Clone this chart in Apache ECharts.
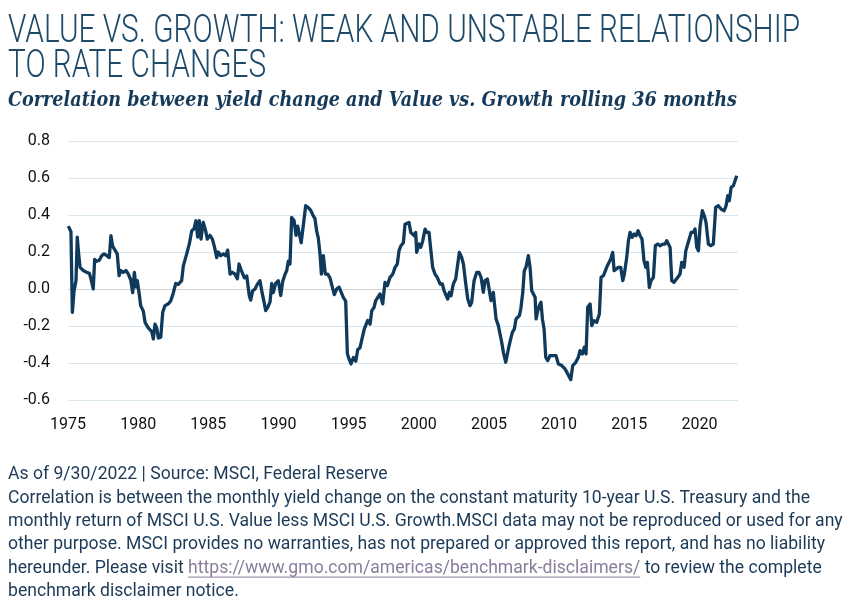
<!DOCTYPE html>
<html><head><meta charset="utf-8">
<script src="https://cdn.jsdelivr.net/npm/echarts@6/dist/echarts.min.js"></script>
<style>html,body{margin:0;padding:0;background:#fff}#c{width:857px;height:608px}</style>
</head><body><div id="c"></div>
<script>
const titleLines = ["VALUE VS. GROWTH: WEAK AND UNSTABLE RELATIONSHIP", "TO RATE CHANGES"];
const subtitle = "Correlation between yield change and Value vs. Growth rolling 36 months";
const noteLines = [
  "As of 9/30/2022 | Source: MSCI, Federal Reserve",
  "Correlation is between the monthly yield change on the constant maturity 10-year U.S. Treasury and the",
  "monthly return of MSCI U.S. Value less MSCI U.S. Growth.MSCI data may not be reproduced or used for any",
  "other purpose. MSCI provides no warranties, has not prepared or approved this report, and has no liability",
  "hereunder. Please visit |https://www.gmo.com/americas/benchmark-disclaimers/| to review the complete",
  "benchmark disclaimer notice."
];
const yearTicks = [1975, 1980, 1985, 1990, 1995, 2000, 2005, 2010, 2015, 2020];
const years = [
1975.02,1975.14,1975.21,1975.31,1975.43,1975.57,1975.66,1975.76,1975.86,1976.09,1976.33,1976.52,1976.62,1976.80,1976.90,
1977.05,1977.23,1977.40,1977.57,1977.76,1977.94,1978.06,1978.19,1978.35,1978.51,1978.64,1978.76,1978.94,1979.13,1979.30,
1979.47,1979.61,1979.73,1979.85,1979.94,1980.08,1980.18,1980.37,1980.49,1980.72,1980.97,1981.08,1981.20,1981.32,1981.44,
1981.61,1981.75,1981.91,1982.15,1982.32,1982.51,1982.68,1982.86,1983.10,1983.22,1983.34,1983.46,1983.65,1983.82,1983.98,
1984.12,1984.24,1984.36,1984.48,1984.64,1984.81,1984.93,1985.12,1985.29,1985.43,1985.60,1985.71,1985.88,1986.07,1986.24,
1986.38,1986.55,1986.71,1986.90,1987.07,1987.19,1987.33,1987.45,1987.57,1987.74,1987.92,1988.02,1988.16,1988.33,1988.49,
1988.68,1988.81,1988.97,1989.09,1989.23,1989.40,1989.52,1989.63,1989.80,1989.99,1990.16,1990.30,1990.47,1990.59,1990.70,
1990.82,1990.94,1991.11,1991.25,1991.37,1991.49,1991.62,1991.74,1991.94,1992.13,1992.30,1992.48,1992.60,1992.73,1992.84,
1992.96,1993.06,1993.20,1993.34,1993.51,1993.67,1993.84,1993.98,1994.15,1994.32,1994.46,1994.62,1994.79,1994.91,1995.03,
1995.17,1995.34,1995.51,1995.65,1995.81,1995.98,1996.12,1996.24,1996.36,1996.53,1996.65,1996.81,1996.93,1997.07,1997.24,
1997.43,1997.59,1997.76,1997.95,1998.14,1998.31,1998.47,1998.59,1998.73,1998.90,1999.02,1999.14,1999.30,1999.43,1999.54,
1999.66,1999.78,1999.85,2000.02,2000.14,2000.28,2000.45,2000.57,2000.73,2000.85,2000.99,2001.16,2001.32,2001.52,2001.68,
2001.80,2001.94,2002.06,2002.18,2002.30,2002.46,2002.63,2002.75,2002.89,2003.06,2003.18,2003.35,2003.49,2003.65,2003.77,
2003.94,2004.13,2004.29,2004.44,2004.60,2004.72,2004.89,2005.03,2005.15,2005.31,2005.43,2005.51,2005.67,2005.79,2005.91,
2006.03,2006.20,2006.31,2006.41,2006.55,2006.67,2006.81,2006.93,2007.05,2007.17,2007.27,2007.41,2007.52,2007.64,2007.81,
2007.93,2008.05,2008.16,2008.29,2008.36,2008.48,2008.59,2008.71,2008.81,2008.93,2009.05,2009.19,2009.35,2009.57,2009.78,
2009.95,2010.19,2010.42,2010.59,2010.83,2010.97,2011.19,2011.37,2011.49,2011.66,2011.80,2011.92,2012.04,2012.21,2012.33,
2012.49,2012.68,2012.87,2012.99,2013.16,2013.30,2013.44,2013.58,2013.68,2013.82,2013.92,2014.06,2014.22,2014.39,2014.54,
2014.65,2014.82,2014.94,2015.06,2015.20,2015.34,2015.49,2015.63,2015.77,2015.91,2016.05,2016.18,2016.29,2016.43,2016.55,
2016.72,2016.86,2017.03,2017.19,2017.39,2017.55,2017.67,2017.79,2017.91,2018.03,2018.19,2018.31,2018.46,2018.62,2018.74,
2018.91,2019.03,2019.17,2019.29,2019.41,2019.57,2019.69,2019.81,2019.93,2020.05,2020.21,2020.35,2020.47,2020.64,2020.81,
2020.99,2021.16,2021.35,2021.54,2021.76,2021.90,2022.02,2022.13,2022.26,2022.42,2022.54,2022.66
];
const values = [
0.34,0.35,0.31,-0.126,-0.01,0.045,0.28,0.19,0.117,0.10,0.09,0.085,0.06,0.0,0.16,
0.15,0.155,0.18,0.19,0.18,0.17,0.288,0.23,0.21,0.19,0.072,0.10,0.09,0.10,0.08,
0.05,-0.02,0.09,0.01,0.045,-0.03,-0.09,-0.12,-0.18,-0.21,-0.23,-0.27,-0.19,-0.21,-0.265,
-0.26,-0.126,-0.09,-0.08,-0.065,-0.02,0.03,0.025,0.045,0.125,0.135,0.19,0.245,0.315,0.325,
0.369,0.28,0.37,0.27,0.36,0.315,0.27,0.29,0.27,0.23,0.17,0.20,0.18,0.19,0.18,
0.21,0.08,0.09,0.08,0.055,0.135,0.105,0.115,0.06,0.07,-0.036,-0.06,-0.01,0.0,0.025,
0.045,-0.01,-0.07,-0.117,-0.10,-0.07,0.03,-0.02,0.03,0.045,-0.035,0.04,0.08,0.10,0.15,
0.135,0.387,0.37,0.29,0.34,0.33,0.25,0.26,0.45,0.44,0.425,0.395,0.38,0.31,0.275,
0.19,0.08,0.18,0.08,0.08,0.06,0.01,-0.03,0.0,0.01,0.0,-0.045,-0.065,-0.35,-0.378,
-0.405,-0.37,-0.39,-0.327,-0.318,-0.26,-0.215,-0.225,-0.17,-0.19,-0.117,-0.10,-0.063,-0.054,-0.027,
-0.08,0.036,0.018,0.063,0.08,0.117,0.135,0.207,0.234,0.25,0.35,0.34,0.36,0.306,0.315,
0.288,0.306,0.198,0.243,0.225,0.26,0.324,0.306,0.306,0.216,0.117,0.08,0.063,0.027,0.027,
-0.009,0.0,-0.054,-0.018,-0.036,0.027,0.054,0.063,0.198,0.17,0.135,0.027,-0.054,-0.09,-0.072,
0.045,0.09,0.09,0.063,-0.018,0.045,0.054,0.045,-0.063,-0.018,-0.027,-0.162,-0.198,-0.243,-0.288,
-0.342,-0.396,-0.387,-0.315,-0.27,-0.234,-0.216,-0.162,-0.171,-0.144,-0.108,-0.018,0.099,0.117,0.18,
0.117,-0.009,-0.018,-0.045,-0.162,-0.117,-0.09,-0.072,-0.162,-0.216,-0.369,-0.387,-0.36,-0.36,-0.36,
-0.405,-0.414,-0.432,-0.455,-0.49,-0.414,-0.396,-0.369,-0.333,-0.351,-0.315,-0.351,-0.099,-0.081,-0.198,
-0.171,-0.18,-0.135,0.063,0.072,0.063,0.126,0.135,0.162,0.198,0.099,0.108,0.117,0.117,0.045,
0.081,0.171,0.261,0.306,0.279,0.297,0.288,0.315,0.288,0.27,0.153,0.117,0.144,0.009,0.045,
0.063,0.234,0.243,0.234,0.243,0.243,0.261,0.243,0.225,0.045,0.036,0.027,0.063,0.081,0.144,
0.117,0.207,0.243,0.234,0.306,0.306,0.324,0.225,0.207,0.342,0.423,0.396,0.36,0.243,0.234,
0.243,0.441,0.45,0.432,0.423,0.45,0.504,0.477,0.549,0.558,0.585,0.612
];

const ctx = document.createElement('canvas').getContext('2d');
function tw(text, font) { ctx.font = font; return ctx.measureText(text).width; }

const titleFont = '300 38px Roboto';
const subFont = 'italic bold 21px "DejaVu Serif"';
const noteFont = '19px Roboto';
const titleScale = 792 / tw(titleLines[0], titleFont);
const subScale = 729 / tw(subtitle, subFont);
const noteScale = 802 / tw(noteLines[1], noteFont);

const graphics = [];
titleLines.forEach((t, i) => {
  graphics.push({ type: 'text', x: 8, y: 32 + i * 35, scaleX: titleScale,
    style: { text: t, font: titleFont, fill: '#1e4a6a', verticalAlign: 'middle' } });
});
graphics.push({ type: 'text', x: 8, y: 101, scaleX: subScale,
  style: { text: subtitle, font: subFont, fill: '#163a5a', verticalAlign: 'middle' } });

const noteColor = '#1c3a57', linkColor = '#8a7d9b';
noteLines.forEach((line, i) => {
  const y = 474.5 + i * 23.4;
  const parts = line.split('|');
  if (parts.length === 3) {
    let x = 8;
    parts.forEach((p, k) => {
      const w = tw(p, noteFont) * noteScale;
      graphics.push({ type: 'text', x: x, y: y, scaleX: noteScale,
        style: { text: p, font: noteFont, fill: k === 1 ? linkColor : noteColor, verticalAlign: 'middle' } });
      if (k === 1) {
        graphics.push({ type: 'line', shape: { x1: x, y1: y + 9, x2: x + w, y2: y + 9 },
          style: { stroke: linkColor, lineWidth: 1 } });
      }
      x += w;
    });
  } else {
    graphics.push({ type: 'text', x: 8, y: y, scaleX: noteScale,
      style: { text: line, font: noteFont, fill: noteColor, verticalAlign: 'middle' } });
  }
});

const grid = '#d9e6ee';
const chart = echarts.init(document.getElementById('c'), null, { renderer: 'canvas' });
chart.setOption({
  animation: false,
  backgroundColor: '#fff',
  grid: { left: 68, top: 141, width: 670, height: 259, containLabel: false },
  xAxis: {
    type: 'value', min: 1975, max: 2022.75, interval: 5,
    axisLine: { show: false }, axisTick: { show: false }, splitLine: { show: false },
    axisLabel: { color: '#111', fontSize: 16, fontFamily: 'Roboto', margin: 17, showMaxLabel: false,
      formatter: v => (yearTicks.indexOf(v) >= 0 ? String(v) : '') }
  },
  yAxis: {
    type: 'value', min: -0.6, max: 0.8, interval: 0.2,
    axisLine: { show: false }, axisTick: { show: false },
    splitLine: { lineStyle: { color: [grid, grid, grid, '#d2d2d2', grid, grid, grid, grid], width: 1 } },
    axisLabel: { color: '#111', fontSize: 16, fontFamily: 'Roboto', margin: 18, formatter: v => v.toFixed(1) }
  },
  series: [{
    type: 'line', data: years.map((y, i) => [y, values[i]]), showSymbol: false, symbol: 'none',
    lineStyle: { color: '#0f3a5c', width: 3.3, join: 'round' }
  }],
  graphic: graphics
});
</script>
</body></html>
